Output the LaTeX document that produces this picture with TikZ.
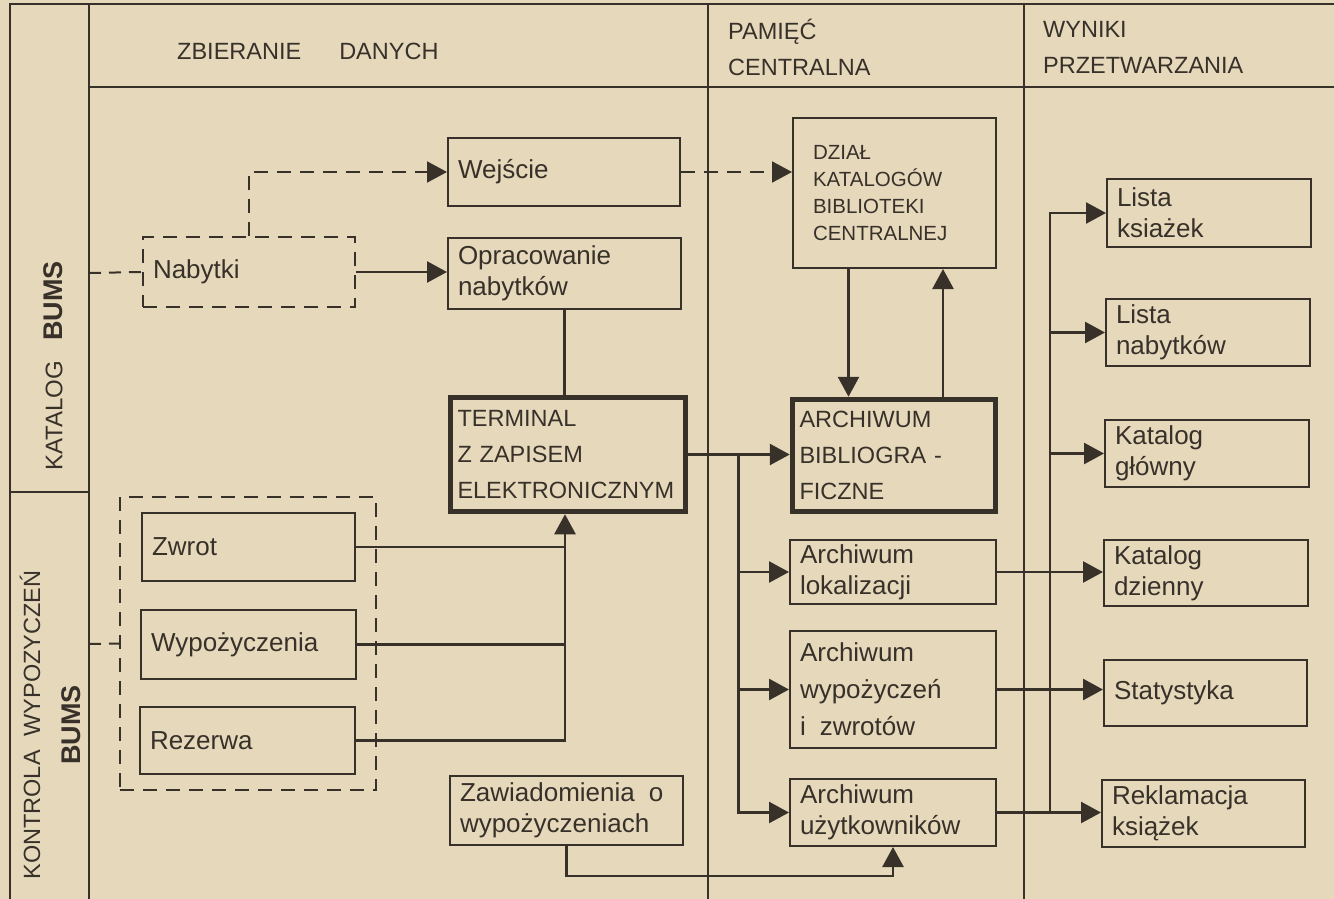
\documentclass[tikz,border=0pt]{standalone}
\usepackage{fontspec}
\setmainfont{Liberation Sans}
\usepackage{tikz}
\usetikzlibrary{arrows.meta,positioning,fit,calc}
\definecolor{paper}{HTML}{E6D8BB}
\definecolor{ink}{HTML}{37312A}
\newcommand{\boxfont}{\fontsize{26}{31}\selectfont}
\newcommand{\capsfont}{\fontsize{23.5}{36}\selectfont}
\newcommand{\dzialfont}{\fontsize{20.5}{27}\selectfont}
\newcommand{\bumsfont}{\fontsize{27}{40}\selectfont\bfseries}
\tikzset{
  box/.style={draw=ink,line width=2pt,align=left,inner xsep=10pt,inner ysep=3pt,text=ink,font=\boxfont},
  thickbox/.style={box,line width=5.5pt,inner xsep=7pt,font=\capsfont},
  dashbox/.style={box,dash pattern=on 14pt off 9pt},
  link/.style={ink,line width=2.6pt},
  arrow/.style={link,-{Triangle[length=20pt,width=21pt]}},
  dasharrow/.style={arrow,line width=2pt,dash pattern=on 14pt off 9pt},
  gridline/.style={ink,line width=1.8pt},
  header/.style={text=ink,font=\capsfont,align=left,inner sep=0pt}
}

\begin{document}
\begin{tikzpicture}[x=1pt,y=1pt]
  \fill[paper] (0,0) rectangle (1334,-899);
  \useasboundingbox (0,0) rectangle (1334,-899);

  % frame
  \draw[gridline] (10,-899) -- (10,-4) -- (1334,-4);
  \draw[gridline] (89,-4) -- (89,-899);
  \draw[gridline] (89,-87) -- (1334,-87);
  \draw[gridline] (10,-492) -- (89,-492);
  \draw[gridline] (708,-4) -- (708,-899);
  \draw[gridline] (1024,-4) -- (1024,-899);

  % headers
  \node[header,anchor=base west] (zbier) at (177,-60) {ZBIERANIE\hspace{38pt}DANYCH};
  \node[header,anchor=west] (pamiec) at (728,-47) {PAMIĘĆ\\CENTRALNA};
  \node[header,anchor=west] (wyniki) at (1043,-47) {WYNIKI\\PRZETWARZANIA};
  \node[header,rotate=90,font=\fontsize{24}{40}\selectfont] (katbums) at (53,-366) {KATALOG\hspace{20pt}{\bumsfont BUMS}};
  \node[header,rotate=90,align=center,font=\fontsize{23.5}{40}\selectfont] (kontrola) at (50,-725) {KONTROLA\hspace{14pt}WYPOZYCZEŃ\\{\bumsfont BUMS}};

  % zbieranie danych
  \node[box,text width=212pt,minimum height=68pt] (wejscie) at (564,-172) {Wejście};
  \node[box,text width=213pt,minimum height=71pt] (oprac) at (564.5,-273.5) {Opracowanie\\nabytków};
  \node[dashbox,text width=192pt,minimum height=70pt] (nabytki) at (249,-272) {Nabytki};
  \node[thickbox,text width=221pt,minimum height=114pt] (terminal) at (568,-454.5) {TERMINAL\\Z ZAPISEM\\ELEKTRONICZNYM};
  \node[box,text width=193pt,minimum height=68pt] (zwrot) at (248.5,-547) {Zwrot};
  \node[box,text width=195pt,minimum height=69pt] (wypoz) at (248.5,-644.5) {Wypożyczenia};
  \node[box,text width=195pt,minimum height=67pt] (rezerwa) at (247.5,-740.5) {Rezerwa};
  \node[dashbox,fit=(zwrot)(wypoz)(rezerwa),inner xsep=19pt,inner ysep=15pt] (grupa) {};
  \node[box,text width=213pt,minimum height=69pt] (zawiad) at (566.5,-810.5) {Zawiadomienia\hspace{14pt}o\\wypożyczeniach};

  % pamiec centralna
  \node[box,font=\dzialfont,inner xsep=20pt,text width=163pt,minimum height=150pt] (dzial) at (894.5,-193) {DZIAŁ\\KATALOGÓW\\BIBLIOTEKI\\CENTRALNEJ};
  \node[thickbox,text width=189pt,minimum height=112pt] (archbib) at (894,-455.5) {ARCHIWUM\\BIBLIOGRA -\\FICZNE};
  \node[box,text width=186pt,minimum height=64pt] (archlok) at (893,-572) {Archiwum\\lokalizacji};
  \node[box,text width=186pt,minimum height=117pt,font=\fontsize{26}{37}\selectfont] (archwyp) at (893,-689.5) {Archiwum\\wypożyczeń\\i\hspace{14pt}zwrotów};
  \node[box,text width=186pt,minimum height=67pt] (archuzyt) at (893,-812.5) {Archiwum\\użytkowników};

  % wyniki przetwarzania
  \node[box,text width=184pt,minimum height=68pt] (listak) at (1209,-213) {Lista\\ksiażek};
  \node[box,text width=184pt,minimum height=67pt] (listan) at (1208,-332.5) {Lista\\nabytków};
  \node[box,text width=184pt,minimum height=67pt] (katglow) at (1207,-453.5) {Katalog\\główny};
  \node[box,text width=184pt,minimum height=66pt] (katdz) at (1206,-573) {Katalog\\dzienny};
  \node[box,text width=183pt,minimum height=66pt] (stat) at (1205.5,-693) {Statystyka};
  \node[box,text width=183pt,minimum height=67pt] (rekl) at (1203.5,-813.5) {Reklamacja\\książek};

  \coordinate (katwej) at (89,-273);
  \coordinate (wypwej) at (89,-644);
  \coordinate (rozdz) at ($(terminal.east)+(50,0)$);
  \coordinate (termwej) at ([xshift=-3pt]terminal.south);
  \coordinate (szyna) at ($(archuzyt.east)+(53,0)$);

  % katalog
  \draw[link,line width=2pt,dash pattern=on 12pt off 8pt] (katwej) -- (nabytki.west);
  \draw[dasharrow] (nabytki.north) |- (wejscie.west);
  \draw[arrow] (nabytki.east) -- (nabytki.east -| oprac.west);
  \draw[dasharrow] (wejscie.east) -- (wejscie.east -| dzial.west);
  \draw[link] (oprac.south) -- (oprac.south |- terminal.north);
  \draw[arrow] (terminal.east) -- (terminal.east -| archbib.west);
  \draw[arrow] ([xshift=-46pt]dzial.south) -- ([xshift=-46pt]dzial.south |- archbib.north);
  \draw[arrow] ([xshift=49pt]archbib.north) -- ([xshift=49pt]archbib.north |- dzial.south);

  % kontrola wypozyczen
  \draw[link,line width=2pt,dash pattern=on 12pt off 8pt] (wypwej) -- (grupa.west);
  \draw[link] (zwrot.east) -- (zwrot.east -| termwej);
  \draw[link] (wypoz.east) -- (wypoz.east -| termwej);
  \draw[arrow] (rezerwa.east) -| (termwej);
  \draw[arrow] (zawiad.south) -- ++(0,-30) -| (archuzyt.south);

  % archiwa
  \draw[arrow] (rozdz) |- (archlok.west);
  \draw[arrow] (rozdz) |- (archwyp.west);
  \draw[arrow] (rozdz) |- (archuzyt.west);

  % wyniki
  \draw[arrow] (archlok.east) -- (archlok.east -| katdz.west);
  \draw[arrow] (archwyp.east) -- (archwyp.east -| stat.west);
  \draw[arrow] (archuzyt.east) -- (archuzyt.east -| rekl.west);
  \draw[arrow] (szyna) |- (listak.west);
  \draw[arrow] (szyna) |- (listan.west);
  \draw[arrow] (szyna) |- (katglow.west);
\end{tikzpicture}
\end{document}
